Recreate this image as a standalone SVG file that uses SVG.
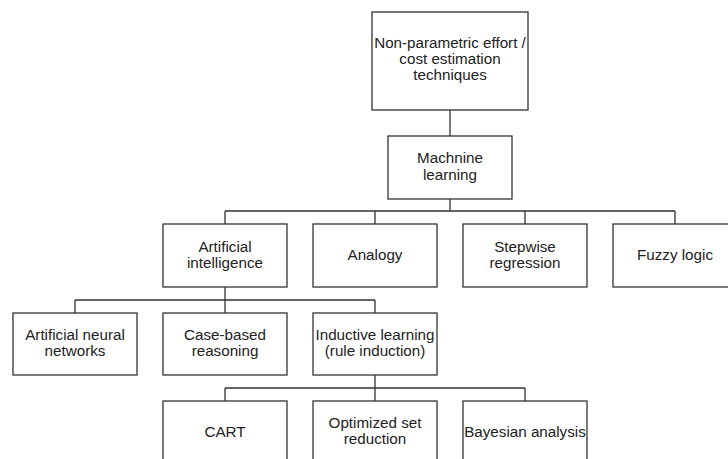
<svg xmlns="http://www.w3.org/2000/svg" width="728" height="459" viewBox="0 0 728 459">
<style>
.box{fill:#fff;stroke:#333;stroke-width:1.3}
.t{font-family:"Liberation Sans",Arial,sans-serif;font-size:15.2px;fill:#222;text-anchor:middle}
.c{fill:none;stroke:#333;stroke-width:1.3}
</style>
<rect width="728" height="459" fill="#fff"/>
<g id="connectors">
<path class="c" d="M450 110V136"/>
<path class="c" d="M450 199V211M225 211H675M225 211V224M375 211V224M525 211V224M675 211V224"/>
<path class="c" d="M225 287V300M75 300H375M75 300V313M225 300V313M375 300V313"/>
<path class="c" d="M375 375V388M225 388H525M225 388V401M375 388V401M525 388V401"/>
</g>
<g id="root"><rect class="box" x="372" y="12" width="156" height="98"/><text class="t" x="450" y="48">Non-parametric effort /</text><text class="t" x="450" y="64">cost estimation</text><text class="t" x="450" y="80">techniques</text></g>
<g id="ml"><rect class="box" x="388" y="136" width="124" height="63"/><text class="t" x="450" y="163">Machnine</text><text class="t" x="450" y="180">learning</text></g>
<g id="ai"><rect class="box" x="163" y="224" width="124" height="63"/><text class="t" x="225" y="252">Artificial</text><text class="t" x="225" y="268">intelligence</text></g>
<g id="analogy"><rect class="box" x="313" y="224" width="124" height="63"/><text class="t" x="375" y="260">Analogy</text></g>
<g id="stepwise"><rect class="box" x="463" y="224" width="124" height="63"/><text class="t" x="525" y="252">Stepwise</text><text class="t" x="525" y="268">regression</text></g>
<g id="fuzzy"><rect class="box" x="613" y="224" width="124" height="63"/><text class="t" x="675" y="260">Fuzzy logic</text></g>
<g id="ann"><rect class="box" x="13" y="313" width="124" height="62"/><text class="t" x="75" y="340">Artificial neural</text><text class="t" x="75" y="356">networks</text></g>
<g id="cbr"><rect class="box" x="163" y="313" width="124" height="62"/><text class="t" x="225" y="340">Case-based</text><text class="t" x="225" y="356">reasoning</text></g>
<g id="inductive"><rect class="box" x="313" y="313" width="124" height="62"/><text class="t" x="375" y="340">Inductive learning</text><text class="t" x="375" y="356">(rule induction)</text></g>
<g id="cart"><rect class="box" x="163" y="401" width="124" height="70"/><text class="t" x="225" y="437">CART</text></g>
<g id="osr"><rect class="box" x="313" y="401" width="124" height="70"/><text class="t" x="375" y="428">Optimized set</text><text class="t" x="375" y="444">reduction</text></g>
<g id="bayes"><rect class="box" x="463" y="401" width="124" height="70"/><text class="t" x="525" y="437">Bayesian analysis</text></g>
</svg>
